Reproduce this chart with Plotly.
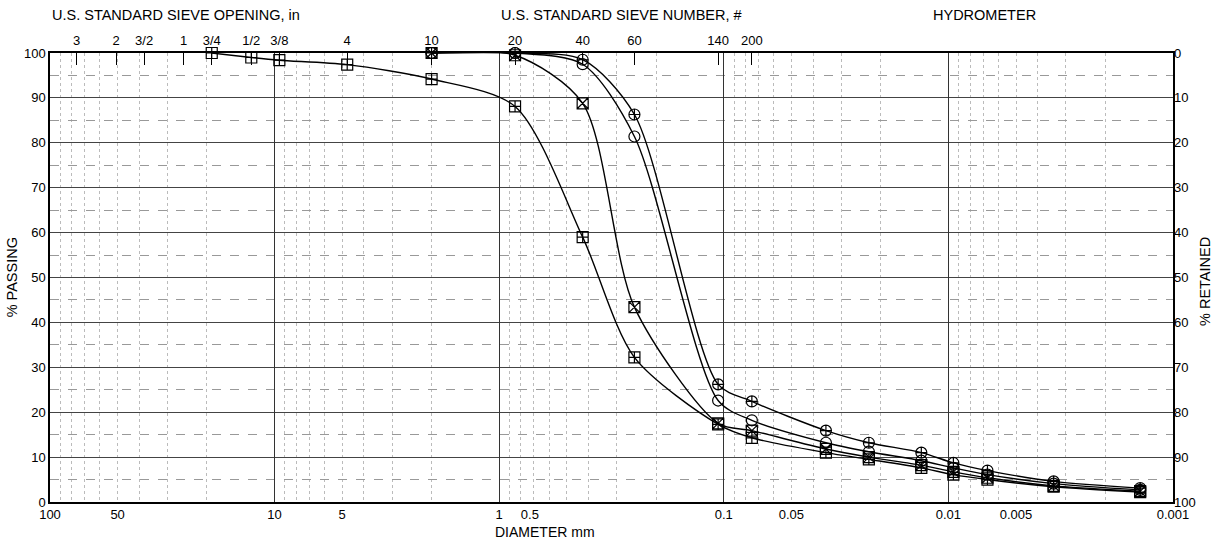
import plotly.graph_objects as go

# sieve / hydrometer diameters (mm)
d_coarse = [19.05, 12.7, 9.525, 4.75]
d_sieve = [2.0, 0.85, 0.425, 0.25, 0.106, 0.075]
d_hydro = [0.0351, 0.0226, 0.0132, 0.0095, 0.0067, 0.0034, 0.0014]

# percent passing
s1_pass = [100, 99.0, 98.4, 97.4] + [94.2, 88.1, 59.0, 32.2, 17.3, 14.3] + [11.0, 9.5, 7.6, 6.1, 5.0, 3.4, 2.2]
s2_pass = [100, 99.5, 88.8, 43.4, 17.5, 15.9] + [11.8, 10.0, 8.2, 6.7, 5.4, 3.6, 2.4]
s3_pass = [100, 100, 97.5, 81.4, 22.6, 18.2] + [13.2, 11.2, 9.2, 7.6, 6.1, 4.1, 2.7]
s4_pass = [100, 100, 98.5, 86.3, 26.2, 22.4] + [15.9, 13.2, 11.0, 8.7, 7.0, 4.6, 3.1]

# top axis: sieve openings / numbers
sieve_size = [76.2, 50.8, 38.1, 25.4, 19.05, 12.7, 9.525, 4.75, 2.0, 0.85, 0.425, 0.25, 0.106, 0.075]
sieve_text = ["3", "2", "3/2", "1", "3/4", "1/2", "3/8", "4", "10", "20", "40", "60", "140", "200"]

# bottom axis labels (the "0.5" label sits left of its decade spot, as printed)
diam_ticks = [100, 50, 10, 5, 1, 0.73, 0.1, 0.05, 0.01, 0.005, 0.001]
diam_text = ["100", "50", "10", "5", "1", "0.5", "0.1", "0.05", "0.01", "0.005", "0.001"]

decades = [10, 1, 0.1, 0.01]
minor = [m * 10.0 ** e for e in range(-3, 2) for m in range(2, 10)]

series = [
    (d_coarse + d_sieve + d_hydro, s1_pass, "square-cross-open"),
    (d_sieve + d_hydro, s2_pass, "square-x-open"),
    (d_sieve + d_hydro, s3_pass, "circle-open"),
    (d_sieve + d_hydro, s4_pass, "circle-cross-open"),
]

FONT = "Liberation Sans, Arial, sans-serif"

fig = go.Figure()
for xs, ys, sym in series:
    fig.add_trace(go.Scatter(
        x=xs, y=ys, mode="lines+markers",
        line=dict(color="black", width=1.4, shape="spline", smoothing=0.8),
        marker=dict(symbol=sym, size=11, color="black", line=dict(width=1.2, color="black")),
        showlegend=False, cliponaxis=False,
    ))

# dummy traces to activate secondary axes
fig.add_trace(go.Scatter(x=[1], y=[50], xaxis="x2", yaxis="y2", mode="markers",
                         marker=dict(opacity=0), showlegend=False, hoverinfo="skip"))
fig.add_trace(go.Scatter(x=[1], y=[50], xaxis="x3", yaxis="y", mode="markers",
                         marker=dict(opacity=0), showlegend=False, hoverinfo="skip"))

fig.update_layout(
    width=1219, height=547,
    margin=dict(l=50, r=46, t=53, b=45),
    paper_bgcolor="white", plot_bgcolor="white",
    font=dict(family=FONT, size=13, color="black"),
    xaxis=dict(
        type="log", range=[2, -3], automargin=False,
        tickvals=diam_ticks, ticktext=diam_text, ticks="",
        showgrid=False, zeroline=False,
        showline=True, linecolor="black", linewidth=1.5, mirror=True,
        minor=dict(tickvals=minor, showgrid=True, gridcolor="#bbbbbb",
                   griddash="dot", gridwidth=1, ticks=""),
    ),
    xaxis2=dict(
        type="log", range=[2, -3], overlaying="x", side="top", automargin=False,
        tickvals=sieve_size, ticktext=sieve_text,
        ticks="inside", ticklen=12, tickcolor="black", tickwidth=1.2,
        ticklabelstandoff=4, showgrid=False, zeroline=False, showline=False,
    ),
    xaxis3=dict(
        type="log", range=[2, -3], overlaying="x", side="bottom", automargin=False,
        tickvals=decades, showticklabels=False, ticks="",
        showgrid=True, gridcolor="#333333", gridwidth=1.2, zeroline=False,
    ),
    yaxis=dict(
        range=[0, 100], tickvals=list(range(0, 101, 10)), automargin=False,
        ticks="", showgrid=True, gridcolor="#444444", gridwidth=1.2,
        zeroline=False, showline=True, linecolor="black", linewidth=1.5, mirror=True,
        minor=dict(tickvals=list(range(5, 100, 10)), showgrid=True,
                   gridcolor="#999999", griddash="dash", gridwidth=1),
    ),
    yaxis2=dict(
        range=[100, 0], overlaying="y", side="right", anchor="x", automargin=False,
        tickvals=list(range(0, 101, 10)), ticks="", showgrid=False, zeroline=False,
    ),
)

# header row above the sieve labels
headers = [
    ("U.S. STANDARD SIEVE OPENING, in", 2.0, "left"),
    ("U.S. STANDARD SIEVE NUMBER, #", 0.0, "left"),
    ("HYDROMETER", -2.16, "center"),
]
for text, xlog, anchor in headers:
    fig.add_annotation(text=text, x=xlog, xref="x", y=1.085, yref="paper",
                       xanchor=anchor, yanchor="middle", showarrow=False,
                       font=dict(family=FONT, size=14.5, color="black"))

fig.add_annotation(text="DIAMETER mm", x=0.441, xref="paper", y=-0.067, yref="paper",
                   xanchor="center", yanchor="middle", showarrow=False,
                   font=dict(family=FONT, size=14, color="black"))
fig.add_annotation(text="% PASSING", x=-0.034, xref="paper", y=0.5, yref="paper",
                   textangle=-90, xanchor="center", yanchor="middle", showarrow=False,
                   font=dict(family=FONT, size=14.5, color="black"))
fig.add_annotation(text="% RETAINED", x=1.0285, xref="paper", y=0.49, yref="paper",
                   textangle=-90, xanchor="center", yanchor="middle", showarrow=False,
                   font=dict(family=FONT, size=14.5, color="black"))

# the page body has a default 8px margin; drop it so the figure sits at the window corner
fig.write_html("out.html", config={"displayModeBar": False},
               post_script="document.body.style.margin='0';")
